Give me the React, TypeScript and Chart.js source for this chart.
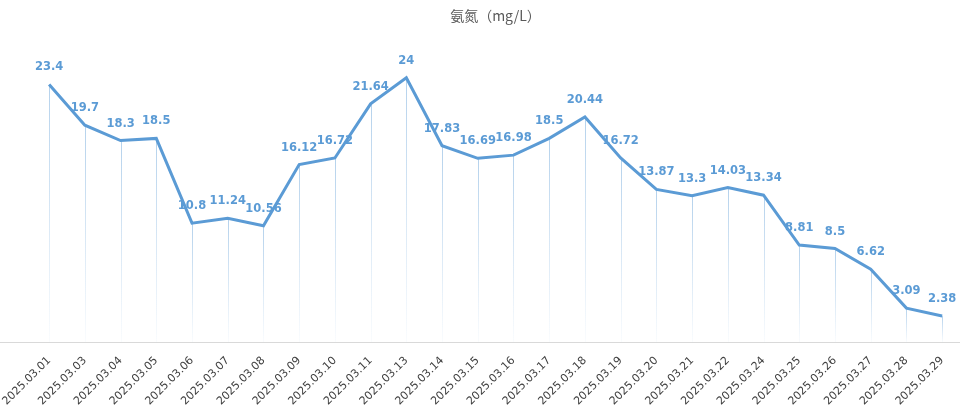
import React, { useEffect, useRef } from "react";
import { Chart, registerables } from "chart.js";

Chart.register(...registerables);

const dates = [
  "2025.03.01", "2025.03.03", "2025.03.04", "2025.03.05", "2025.03.06", "2025.03.07",
  "2025.03.08", "2025.03.09", "2025.03.10", "2025.03.11", "2025.03.13", "2025.03.14",
  "2025.03.15", "2025.03.16", "2025.03.17", "2025.03.18", "2025.03.19", "2025.03.20",
  "2025.03.21", "2025.03.22", "2025.03.24", "2025.03.25", "2025.03.26", "2025.03.27",
  "2025.03.28", "2025.03.29",
];
const ammonia = [
  23.4, 19.7, 18.3, 18.5, 10.8, 11.24, 10.56, 16.12, 16.72, 21.64, 24, 17.83,
  16.69, 16.98, 18.5, 20.44, 16.72, 13.87, 13.3, 14.03, 13.34, 8.81, 8.5, 6.62,
  3.09, 2.38,
];
const title = "氨氮（mg/L）";

const BLUE = "#5b9bd5";

const dropLines = {
  id: "dropLines",
  beforeDatasetsDraw(chart: any) {
    const meta = chart.getDatasetMeta(0);
    const y0 = chart.scales.y.getPixelForValue(0);
    const ctx = chart.ctx;
    ctx.save();
    ctx.lineWidth = 1;
    meta.data.forEach((pt: any) => {
      const g = ctx.createLinearGradient(0, pt.y, 0, y0);
      g.addColorStop(0, "rgba(91,155,213,0.45)");
      g.addColorStop(1, "rgba(91,155,213,0.03)");
      ctx.strokeStyle = g;
      ctx.beginPath();
      const x = Math.round(pt.x) + 0.5;
      ctx.moveTo(x, pt.y);
      ctx.lineTo(x, y0);
      ctx.stroke();
    });
    ctx.restore();
  },
};

const baseline = {
  id: "baseline",
  beforeDatasetsDraw(chart: any) {
    const y0 = Math.round(chart.scales.y.getPixelForValue(0)) + 0.5;
    const ctx = chart.ctx;
    ctx.save();
    ctx.strokeStyle = "#d9d9d9";
    ctx.lineWidth = 1;
    ctx.beginPath();
    ctx.moveTo(0, y0);
    ctx.lineTo(chart.chartArea.right, y0);
    ctx.stroke();
    ctx.restore();
  },
};

const valueLabels = {
  id: "valueLabels",
  afterDatasetsDraw(chart: any) {
    const meta = chart.getDatasetMeta(0);
    const ctx = chart.ctx;
    ctx.save();
    ctx.fillStyle = BLUE;
    ctx.font = "bold 11.5px 'DejaVu Sans'";
    ctx.textAlign = "center";
    ctx.textBaseline = "middle";
    meta.data.forEach((pt: any, i: number) => {
      ctx.fillText(String(ammonia[i]), pt.x, pt.y - 17);
    });
    ctx.restore();
  },
};

export default function App() {
  const ref = useRef<HTMLCanvasElement>(null);
  useEffect(() => {
    if (!ref.current) return;
    const chart = new Chart(ref.current, {
      type: "line",
      data: {
        labels: dates,
        datasets: [
          {
            data: ammonia,
            borderColor: BLUE,
            borderWidth: 3,
            pointRadius: 0,
            tension: 0,
            fill: false,
            clip: false as any,
          },
        ],
      },
      options: {
        animation: false,
        responsive: true,
        maintainAspectRatio: false,
        layout: { padding: { left: 31, right: 15, top: 0, bottom: 6 } },
        plugins: {
          legend: { display: false },
          tooltip: { enabled: false },
          title: {
            display: true,
            text: title,
            color: "#595959",
            font: { family: "'Noto Sans CJK SC'", size: 14, weight: "normal" },
            padding: { top: 7, bottom: 43 },
          },
        },
        scales: {
          x: {
            offset: true,
            grid: { display: false },
            border: { display: false },
            ticks: {
              autoSkip: false,
              maxRotation: 45,
              minRotation: 45,
              color: "#404040",
              padding: 4,
              font: { family: "'DejaVu Sans'", size: 11 },
            },
          },
          y: {
            display: false,
            min: 0,
            max: 25,
          },
        },
      },
      plugins: [baseline, dropLines, valueLabels],
    });
    return () => chart.destroy();
  }, []);
  return (
    <div style={{ position: "absolute", left: 0, top: 0, width: 975, height: 418, background: "#fff" }}>
      <canvas ref={ref} />
    </div>
  );
}
